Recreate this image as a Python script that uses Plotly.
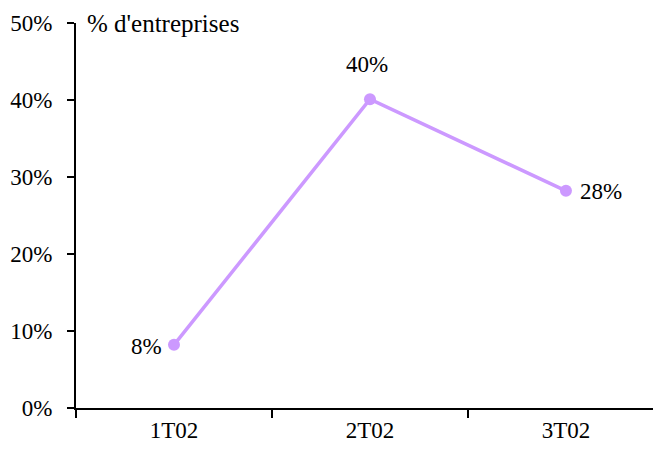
import plotly.graph_objects as go

categories = ["1T02", "2T02", "3T02"]
values = [8.2, 40.1, 28.2]
labels = ["8%", "40%", "28%"]
y_ticks = [0, 10, 20, 30, 40, 50]
y_tick_labels = ["0%", "10%", "20%", "30%", "40%", "50%"]

FONT = "Times New Roman"
COLOR = "#CC99FF"

# label placement per point: (xanchor, yanchor, xshift, yshift)
label_place = [("right", "middle", -10, -2), ("center", "bottom", -3, 20), ("left", "middle", 12, -1)]

fig = go.Figure()
fig.add_trace(go.Scatter(
    x=categories, y=values, mode="lines+markers",
    line=dict(color=COLOR, width=3.5),
    marker=dict(color=COLOR, size=12),
    cliponaxis=False, showlegend=False,
))

annotations = [dict(
    text="% d'entreprises", xref="paper", yref="paper",
    x=0.016, y=1.0, xanchor="left", yanchor="middle",
    showarrow=False, font=dict(family=FONT, size=25, color="black"),
)]
for c, v, t, (xa, ya, xs, ys) in zip(categories, values, labels, label_place):
    annotations.append(dict(
        x=c, y=v, xref="x", yref="y", text=t, showarrow=False,
        xanchor=xa, yanchor=ya, xshift=xs, yshift=ys,
        font=dict(family=FONT, size=23, color="black"),
    ))

fig.update_layout(
    width=653, height=451,
    margin=dict(l=68, r=0, t=15, b=51, autoexpand=False),
    paper_bgcolor="white", plot_bgcolor="white",
    font=dict(family=FONT, size=23, color="black"),
    xaxis=dict(
        type="category", range=[-0.5, 2.485],
        showline=True, linecolor="black", linewidth=2,
        ticks="outside", ticklen=8, tickwidth=2, tickcolor="black",
        tickson="boundaries", showgrid=False, zeroline=False,
        tickfont=dict(family=FONT, size=23),
    ),
    yaxis=dict(
        range=[0, 50], tickvals=y_ticks, ticktext=y_tick_labels,
        showline=True, linecolor="black", linewidth=2,
        ticks="outside", ticklen=7, tickwidth=2, tickcolor="black",
        showgrid=False, zeroline=False, ticklabelstandoff=10,
        tickfont=dict(family=FONT, size=23),
    ),
    annotations=annotations,
)

fig.write_html("out.html")
